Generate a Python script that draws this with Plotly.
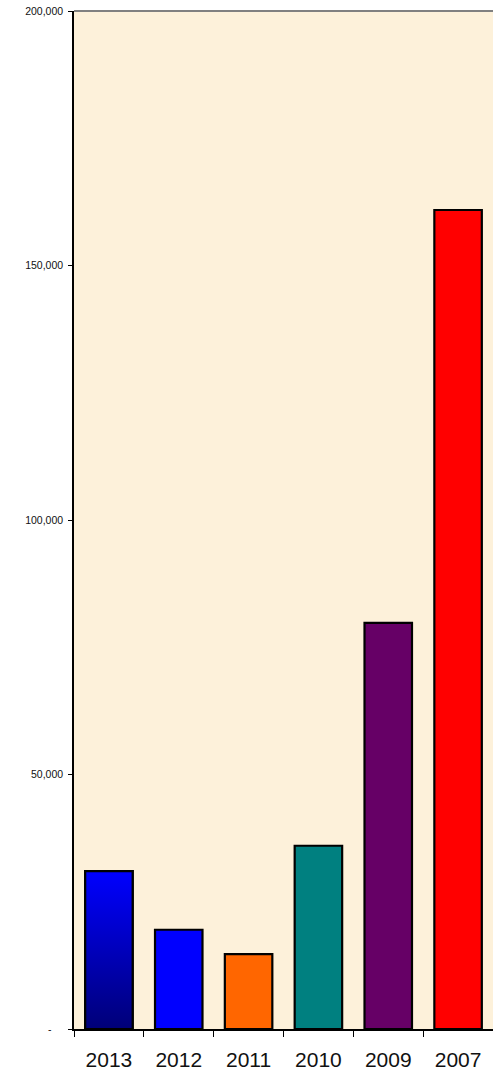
import plotly.graph_objects as go

# Data
years = ["2013", "2012", "2011", "2010", "2009", "2007"]
values = [31000, 19500, 14700, 36000, 79800, 160900]
bar_colors = ["#0000FF", "#0000FF", "#FF6600", "#008080", "#660066", "#FF0000"]

y_tickvals = [0, 50000, 100000, 150000, 200000]
y_ticktext = ["-" + "\u00a0" * 4, "50,000", "100,000", "150,000", "200,000"]

BAR_WIDTH = 0.68
PARCHMENT = "#FDF1DA"

fig = go.Figure()

# Main bars on the category axis
fig.add_trace(go.Bar(
    x=years,
    y=values,
    width=BAR_WIDTH,
    marker=dict(color=bar_colors, line=dict(color="black", width=2.2)),
    hoverinfo="x+y",
))

# Vertical gradient fill for the first bar (navy at the base, blue at the top)
i0 = 0
half = BAR_WIDTH / 2
fig.add_trace(go.Scatter(
    x=[i0 - half, i0 + half, i0 + half, i0 - half, i0 - half],
    y=[0, 0, values[i0], values[i0], 0],
    xaxis="x2",
    mode="lines",
    fill="toself",
    fillgradient=dict(
        type="vertical",
        colorscale=[[0, "#000078"], [1, "#0000FF"]],
    ),
    line=dict(color="black", width=2.2),
    hoverinfo="skip",
    showlegend=False,
))

fig.update_layout(
    width=493,
    height=1074,
    margin=dict(l=74, r=0, t=11, b=45),
    paper_bgcolor="white",
    plot_bgcolor=PARCHMENT,
    showlegend=False,
    bargap=1 - BAR_WIDTH,
    font=dict(family="Liberation Sans, Arial, sans-serif", color="black"),
    xaxis=dict(
        type="category",
        range=[-0.5, 5.5],
        tickson="boundaries",
        ticks="outside",
        ticklen=6,
        tickwidth=1,
        tickcolor="black",
        showline=True,
        linecolor="black",
        linewidth=1.5,
        showgrid=False,
        zeroline=False,
        tickfont=dict(size=21, color="#111111"),
        ticklabelstandoff=11,
        fixedrange=True,
    ),
    xaxis2=dict(
        overlaying="x",
        range=[-0.5, 5.5],
        visible=False,
        fixedrange=True,
    ),
    yaxis=dict(
        range=[0, 200000],
        tickvals=y_tickvals,
        ticktext=y_ticktext,
        ticks="outside",
        ticklen=4,
        tickwidth=1,
        tickcolor="black",
        showline=True,
        linecolor="black",
        linewidth=1.5,
        showgrid=False,
        zeroline=False,
        tickfont=dict(size=10.5, color="#111111"),
        ticklabelstandoff=3,
        fixedrange=True,
    ),
    shapes=[
        # grey frame line along the top of the plot area
        dict(type="line", xref="paper", yref="paper", x0=0, x1=1, y0=1, y1=1,
             line=dict(color="#808080", width=2)),
    ],
)

fig.write_html("out.html")
